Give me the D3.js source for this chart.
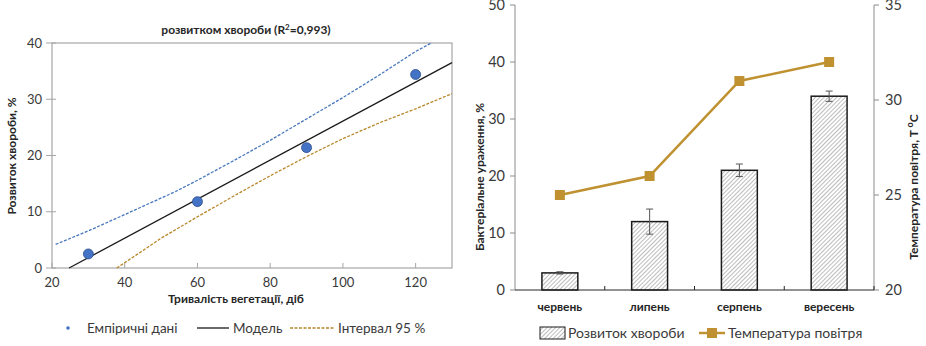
<!DOCTYPE html>
<html><head><meta charset="utf-8">
<script src="https://cdn.jsdelivr.net/npm/d3@7"></script>
<style>
body{margin:0;background:#fff;}
svg{display:block;font-family:Lato, "Open Sans", sans-serif;}
</style></head>
<body>
<svg id="c" width="926" height="346"></svg>
<script>
// ---- Left panel data ----
const empX = [30, 60, 90, 120];
const empY = [2.5, 11.8, 21.4, 34.4];
const modelX = [24.7, 130];
const modelY = [0, 36.5];
const upperX = [21, 30, 40, 54, 60, 70, 80, 90, 100, 110, 120, 124.3];
const upperY = [4.2, 6.6, 9.5, 13.6, 15.6, 19.1, 22.7, 26.5, 30.3, 34.3, 38.5, 40];
const lowerX = [37.8, 45, 50, 60, 70, 80, 90, 100, 110, 120, 130];
const lowerY = [0, 3.1, 5.3, 9.1, 12.8, 16.4, 19.8, 23.0, 25.8, 28.3, 31.0];
const leftXTicks = [20, 40, 60, 80, 100, 120];
const leftYTicks = [0, 10, 20, 30, 40];

// ---- Right panel data ----
const months = ["червень", "липень", "серпень", "вересень"];
const disease = [3.0, 12.0, 21.0, 34.0];
const diseaseErr = [0.2, 2.2, 1.1, 0.9];
const temperature = [25, 26, 31, 32];
const rightYTicks = [0, 10, 20, 30, 40, 50];
const tempTicks = [20, 25, 30, 35];

const svg = d3.select("#c");
const gold = "#BF9130";
const axisGray = "#8c8c8c";
const textGray = "#3a3a3a";

// defs: hatch pattern
const defs = svg.append("defs");
const pat = defs.append("pattern").attr("id","hatch").attr("patternUnits","userSpaceOnUse")
  .attr("width",3).attr("height",3).attr("patternTransform","rotate(45)");
pat.append("rect").attr("width",3).attr("height",3).attr("fill","#fff");
pat.append("line").attr("x1",0).attr("y1",0).attr("x2",0).attr("y2",3).attr("stroke","#7a7a7a").attr("stroke-width",1);

// ================= LEFT PANEL =================
const lx = d3.scaleLinear().domain([20,130]).range([52,452]);
const ly = d3.scaleLinear().domain([0,40]).range([268,43]);
const L = svg.append("g");

L.append("rect").attr("x",52).attr("y",43).attr("width",400).attr("height",225)
  .attr("fill","none").attr("stroke","#a6a6a6").attr("stroke-width",1.2);

leftYTicks.forEach(t=>{
  L.append("line").attr("x1",46).attr("x2",56).attr("y1",ly(t)).attr("y2",ly(t)).attr("stroke","#a6a6a6");
  L.append("text").attr("x",42).attr("y",ly(t)).attr("dy","0.35em").attr("text-anchor","end")
    .attr("font-size",13).attr("fill",textGray).text(t);
});
leftXTicks.forEach(t=>{
  L.append("line").attr("x1",lx(t)).attr("x2",lx(t)).attr("y1",263).attr("y2",268).attr("stroke","#a6a6a6");
  L.append("text").attr("x",lx(t)).attr("y",287).attr("text-anchor","middle")
    .attr("font-size",13).attr("fill",textGray).text(t);
});

const line = d3.line().x(d=>lx(d[0])).y(d=>ly(d[1]));
L.append("path").attr("d",line(d3.zip(upperX,upperY))).attr("fill","none")
  .attr("stroke","#4a78bd").attr("stroke-width",1.3).attr("stroke-dasharray","3,1.5");
L.append("path").attr("d",line(d3.zip(lowerX,lowerY))).attr("fill","none")
  .attr("stroke","#b8872a").attr("stroke-width",1.3).attr("stroke-dasharray","3,1.5");
L.append("path").attr("d",line(d3.zip(modelX,modelY))).attr("fill","none")
  .attr("stroke","#1a1a1a").attr("stroke-width",1.3);
L.selectAll("circle.emp").data(d3.zip(empX,empY)).join("circle")
  .attr("cx",d=>lx(d[0])).attr("cy",d=>ly(d[1])).attr("r",5)
  .attr("fill","#4472C4").attr("stroke","#2f528f").attr("stroke-width",0.8);

L.append("text").attr("x",246).attr("y",34).attr("text-anchor","middle").attr("font-size",12)
  .attr("font-weight","bold").attr("fill","#262626")
  .html('розвитком хвороби (R<tspan dy="-4" font-size="8">2</tspan><tspan dy="4">=0,993)</tspan>');
L.append("text").attr("x",236).attr("y",303).attr("text-anchor","middle").attr("font-size",12)
  .attr("font-weight","bold").attr("fill","#262626").text("Тривалість вегетації, діб");
L.append("text").attr("transform","translate(16,156) rotate(-90)").attr("text-anchor","middle")
  .attr("font-size",12).attr("font-weight","bold").attr("fill","#262626").text("Розвиток хвороби, %");

L.append("circle").attr("cx",68).attr("cy",328).attr("r",1.8).attr("fill","#4472C4");
L.append("text").attr("x",87).attr("y",333).attr("font-size",13.5).attr("fill",textGray).text("Емпіричні дані");
L.append("line").attr("x1",197).attr("x2",229).attr("y1",328).attr("y2",328).attr("stroke","#1a1a1a").attr("stroke-width",1.3);
L.append("text").attr("x",233).attr("y",333).attr("font-size",13.5).attr("fill",textGray).text("Модель");
L.append("line").attr("x1",290).attr("x2",335).attr("y1",328).attr("y2",328).attr("stroke","#b8872a")
  .attr("stroke-width",1.3).attr("stroke-dasharray","3,1.5");
L.append("text").attr("x",338).attr("y",333).attr("font-size",13.5).attr("fill",textGray).text("Інтервал 95 %");

// ================= RIGHT PANEL =================
const R = svg.append("g");
const bx = d3.scaleBand().domain(months).range([515,874]).paddingInner(0).paddingOuter(0);
const ry = d3.scaleLinear().domain([0,50]).range([290,5]);
const ty = d3.scaleLinear().domain([20,35]).range([290,5]);
const barW = bx.bandwidth()*0.4;

R.append("line").attr("x1",515).attr("x2",515).attr("y1",5).attr("y2",290).attr("stroke",axisGray);
rightYTicks.forEach(t=>{
  R.append("line").attr("x1",510).attr("x2",515).attr("y1",ry(t)).attr("y2",ry(t)).attr("stroke",axisGray);
  R.append("text").attr("x",505).attr("y",ry(t)).attr("dy","0.35em").attr("text-anchor","end")
    .attr("font-size",14.5).attr("fill",textGray).text(t);
});
R.append("line").attr("x1",874).attr("x2",874).attr("y1",5).attr("y2",290).attr("stroke",axisGray);
tempTicks.forEach(t=>{
  R.append("line").attr("x1",874).attr("x2",879).attr("y1",ty(t)).attr("y2",ty(t)).attr("stroke",axisGray);
  R.append("text").attr("x",885).attr("y",ty(t)).attr("dy","0.35em").attr("text-anchor","start")
    .attr("font-size",14.5).attr("fill",textGray).text(t);
});

months.forEach((m,i)=>{
  const cx = bx(m)+bx.bandwidth()/2;
  R.append("rect").attr("x",cx-barW/2).attr("y",ry(disease[i])).attr("width",barW)
    .attr("height",ry(0)-ry(disease[i])).attr("fill","url(#hatch)").attr("stroke","#1a1a1a").attr("stroke-width",1.5);
  const hi = ry(disease[i]+diseaseErr[i]), lo = ry(disease[i]-diseaseErr[i]);
  R.append("line").attr("x1",cx).attr("x2",cx).attr("y1",hi).attr("y2",lo).attr("stroke","#555").attr("stroke-width",1);
  R.append("line").attr("x1",cx-3.5).attr("x2",cx+3.5).attr("y1",hi).attr("y2",hi).attr("stroke","#555").attr("stroke-width",1);
  R.append("line").attr("x1",cx-3.5).attr("x2",cx+3.5).attr("y1",lo).attr("y2",lo).attr("stroke","#555").attr("stroke-width",1);
  R.append("text").attr("x",cx).attr("y",311).attr("text-anchor","middle").attr("font-size",12)
    .attr("font-weight","bold").attr("fill","#262626").text(m);
});
R.append("line").attr("x1",515).attr("x2",874).attr("y1",290).attr("y2",290).attr("stroke","#262626").attr("stroke-width",1.2);
[1,2,3,4].forEach(k=>{
  const x = 515 + bx.bandwidth()*k;
  R.append("line").attr("x1",x).attr("x2",x).attr("y1",286).attr("y2",290).attr("stroke","#262626");
});

const tline = d3.line().x((d,i)=>bx(months[i])+bx.bandwidth()/2).y(d=>ty(d));
R.append("path").attr("d",tline(temperature)).attr("fill","none").attr("stroke",gold).attr("stroke-width",2.5);
temperature.forEach((t,i)=>{
  const cx = bx(months[i])+bx.bandwidth()/2;
  R.append("rect").attr("x",cx-5).attr("y",ty(t)-5).attr("width",10).attr("height",10).attr("fill",gold);
});

R.append("text").attr("transform","translate(484,177) rotate(-90)").attr("text-anchor","middle")
  .attr("font-size",12).attr("font-weight","bold").attr("fill","#262626").text("Бактеріальне ураження, %");
R.append("text").attr("transform","translate(918,187) rotate(-90)").attr("text-anchor","middle")
  .attr("font-size",12).attr("font-weight","bold").attr("fill","#262626")
  .html('Температура повітря, T <tspan dy="-5" font-size="9">o</tspan><tspan dy="5">C</tspan>');

R.append("rect").attr("x",540).attr("y",327).attr("width",25).attr("height",12).attr("fill","url(#hatch)")
  .attr("stroke","#1a1a1a").attr("stroke-width",1);
R.append("text").attr("x",568).attr("y",338).attr("font-size",14).attr("fill",textGray).text("Розвиток хвороби");
R.append("line").attr("x1",699).attr("x2",725).attr("y1",333).attr("y2",333).attr("stroke",gold).attr("stroke-width",2.5);
R.append("rect").attr("x",707).attr("y",328).attr("width",10).attr("height",10).attr("fill",gold);
R.append("text").attr("x",728).attr("y",338).attr("font-size",14).attr("fill",textGray).text("Температура повітря");
</script>
</body></html>
